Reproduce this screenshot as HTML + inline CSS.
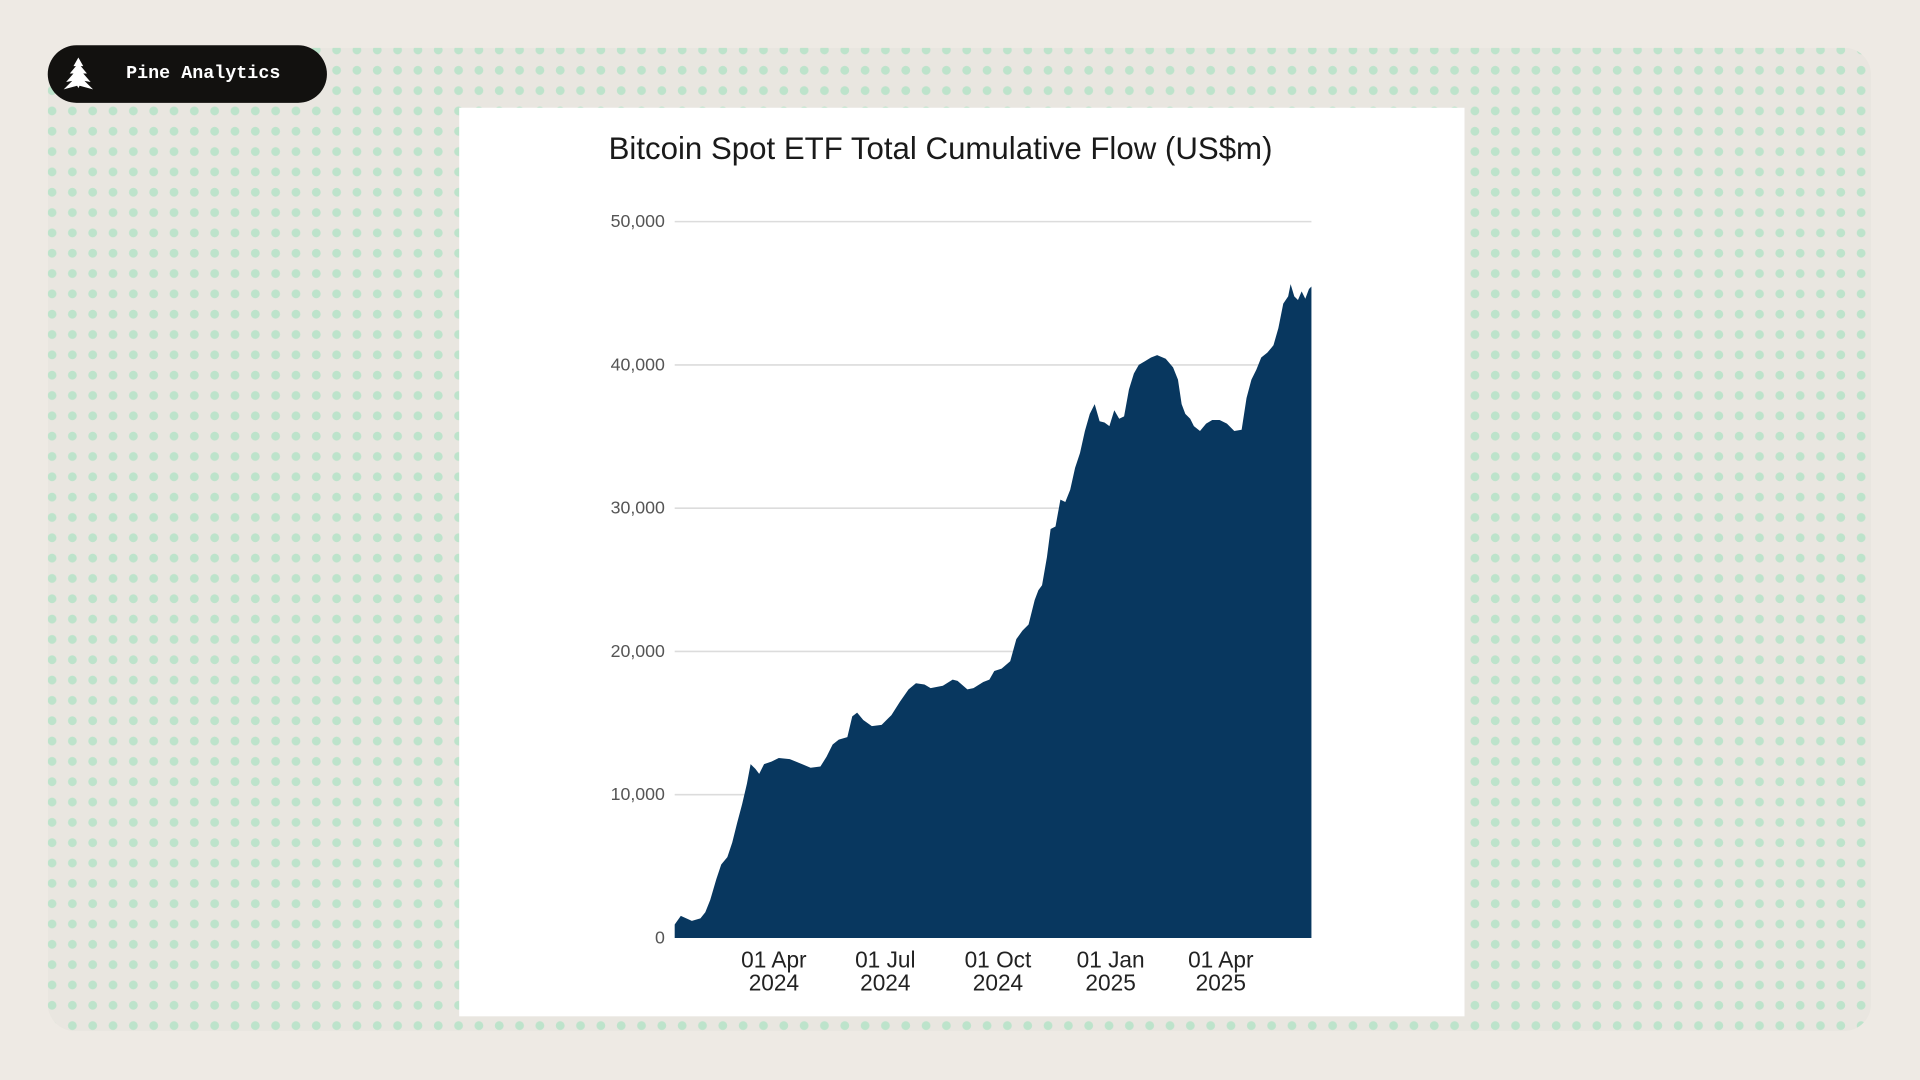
<!DOCTYPE html>
<html><head><meta charset="utf-8"><style>
html,body{margin:0;padding:0;background:#eeeae4;}
svg{display:block}
</style></head><body>
<svg width="1920" height="1080" viewBox="0 0 1568 882" preserveAspectRatio="none" xmlns="http://www.w3.org/2000/svg">
<defs>
<pattern id="dots" patternUnits="userSpaceOnUse" x="34.2" y="82.3" width="16.6" height="16.6">
<circle cx="8.3" cy="8.3" r="3.6" fill="#bde3cb"/>
</pattern>
<clipPath id="panel"><rect x="39" y="39" width="1489" height="803" rx="22"/></clipPath>
</defs>
<rect width="1568" height="882" fill="#eeeae4"/>
<g clip-path="url(#panel)">
<rect x="39" y="39" width="1489" height="803" fill="#e9e6e0"/>
<rect x="39" y="39" width="1489" height="803" fill="url(#dots)"/>
</g>
<rect x="375" y="88" width="821" height="742" fill="#ffffff"/>
<rect x="39" y="37" width="228" height="47" rx="23.5" fill="#12110f"/>
<g fill="#ffffff">
<polygon points="64,47 60,54 62,54 57,60 60,60 54,67 59,66 52,73 63,70 64,72 65,70 76,73 69,66 74,67 68,60 71,60 66,54 68,54"/>
</g>
<text x="103" y="63.5" font-family="Liberation Mono, monospace" font-weight="bold" font-size="15" fill="#ffffff">Pine Analytics</text>
<text x="497" y="130" font-family="Liberation Sans, Arial, sans-serif" font-size="25.5" fill="#1a1a1a">Bitcoin Spot ETF Total Cumulative Flow (US$m)</text>
<g stroke="#dcdcdc" stroke-width="1.3">
<line x1="551" x2="1071" y1="181" y2="181"/>
<line x1="551" x2="1071" y1="298" y2="298"/>
<line x1="551" x2="1071" y1="415" y2="415"/>
<line x1="551" x2="1071" y1="532" y2="532"/>
<line x1="551" x2="1071" y1="649" y2="649"/>
</g>
<g font-family="Liberation Sans, Arial, sans-serif" font-size="14.5" fill="#555" text-anchor="end">
<text x="543" y="185.5">50,000</text>
<text x="543" y="302.5">40,000</text>
<text x="543" y="419.5">30,000</text>
<text x="543" y="536.5">20,000</text>
<text x="543" y="653.5">10,000</text>
<text x="543" y="770.5">0</text>
</g>
<path fill="#08375f" d="M551,766 L551,755 556,748 565,752 572,750 576,745 580,735 585,718 589,706 594,700 598,688 602,672 606,657 610,640 613,624 617,628 620,632 624,624 630,622 636,619 645,620 655,624 662,627 670,626 675,618 680,608 685,604 692,602 696,585 700,582 705,588 712,593 720,592 728,584 735,573 742,563 748,558 755,559 760,562 770,560 778,555 782,556 790,563 795,562 803,557 808,555 812,548 818,546 825,540 830,522 835,515 840,510 845,490 848,482 851,478 855,455 858,432 862,430 866,408 870,410 874,400 878,382 882,370 886,352 890,338 894,330 898,344 902,345 906,348 910,335 914,342 918,340 922,318 926,305 930,298 935,295 940,292 945,290 952,293 958,300 962,310 965,330 968,338 972,342 975,348 980,352 985,346 990,343 996,343 1002,346 1008,352 1014,351 1018,325 1022,310 1026,302 1030,292 1035,288 1040,282 1044,268 1048,248 1052,242 1054,232 1057,242 1060,245 1063,238 1066,244 1069,236 1071,234 L1071,766 Z"/>
<g font-family="Liberation Sans, Arial, sans-serif" font-size="18.5" fill="#222" text-anchor="middle">
<text x="632" y="790">01 Apr</text><text x="632" y="809">2024</text>
<text x="723" y="790">01 Jul</text><text x="723" y="809">2024</text>
<text x="815" y="790">01 Oct</text><text x="815" y="809">2024</text>
<text x="907" y="790">01 Jan</text><text x="907" y="809">2025</text>
<text x="997" y="790">01 Apr</text><text x="997" y="809">2025</text>
</g>
</svg>
</body></html>
